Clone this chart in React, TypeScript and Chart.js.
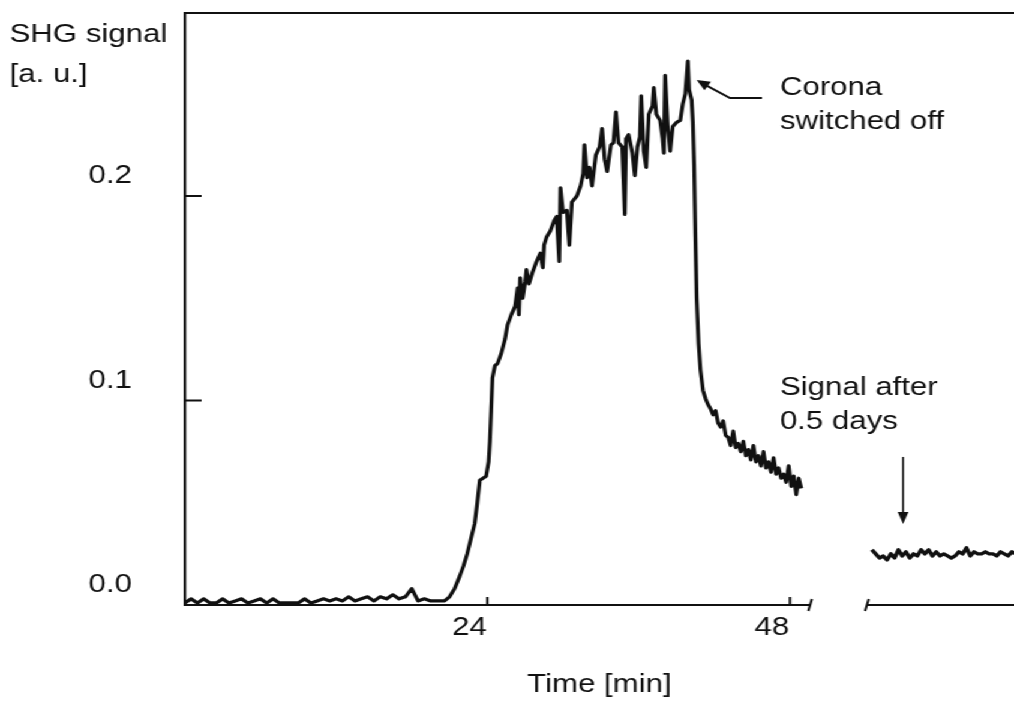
import { useEffect, useRef } from "react";
import { Chart, registerables } from "chart.js";

Chart.register(...registerables);

// ---- data (time in minutes, SHG signal in arbitrary units) ----
const runTimes = [
  0, 0.5, 1, 1.5, 2, 2.5, 3, 3.5, 4, 4.5, 5, 5.5, 6, 6.5, 7, 7.5, 8, 8.5, 9, 9.5,
  10, 10.5, 11, 11.5, 12, 12.5, 13, 13.5, 14, 14.5, 15, 15.5, 16, 16.5, 17, 17.5,
  18, 18.5, 19, 19.5, 20, 20.6,
  21.0, 21.4, 21.8, 22.1, 22.4, 22.6, 23.0, 23.2, 23.4, 23.9, 24.1, 24.2, 24.3,
  24.4, 24.6, 24.8, 25.1, 25.4, 25.6, 25.9, 26.2, 26.4, 26.5, 26.6, 26.8, 27.0,
  27.1, 27.3, 27.6, 27.9, 28.2, 28.4, 28.5, 28.7, 29.0, 29.3, 29.5, 29.7, 29.8,
  30.0, 30.3, 30.5, 30.7, 31.1, 31.4, 31.6, 31.7, 31.9, 32.1, 32.3, 32.6, 32.9,
  33.1, 33.3, 33.5, 33.8, 34.0, 34.2, 34.4, 34.7, 34.9, 35.0, 35.2, 35.5, 35.7,
  35.9, 36.1, 36.2, 36.4, 36.6, 36.8, 37.1, 37.2, 37.4, 37.7, 37.9, 38.0, 38.1,
  38.3, 38.5, 38.7, 39.0, 39.3, 39.5, 39.7, 39.9, 40.0, 40.2, 40.3, 40.4, 40.5,
  40.6, 40.75, 40.9, 41.1, 41.3, 41.5, 41.7, 41.9, 42.1, 42.3, 42.5, 42.7, 42.9,
  43.1, 43.3, 43.5, 43.7, 43.9, 44.1, 44.3, 44.5, 44.7, 44.9, 45.1, 45.3, 45.5,
  45.7, 45.9, 46.1, 46.3, 46.5, 46.7, 46.9, 47.1, 47.3, 47.5, 47.7, 47.9, 48.1,
  48.3, 48.5, 48.7, 48.9,
];
const runSignal = [
  0.001, 0.003, 0.001, 0.003, 0.001, 0.001, 0.003, 0.001, 0.002, 0.003, 0.001,
  0.002, 0.003, 0.001, 0.003, 0.001, 0.001, 0.001, 0.001, 0.003, 0.001, 0.002,
  0.003, 0.002, 0.003, 0.002, 0.004, 0.002, 0.003, 0.004, 0.002, 0.004, 0.003,
  0.005, 0.003, 0.004, 0.008, 0.002, 0.003, 0.002, 0.002, 0.002,
  0.004, 0.008, 0.014, 0.019, 0.025, 0.030, 0.040, 0.050, 0.061, 0.063, 0.070,
  0.080, 0.095, 0.111, 0.117, 0.118, 0.123, 0.130, 0.137, 0.142, 0.146, 0.155,
  0.142, 0.160, 0.150, 0.158, 0.164, 0.157, 0.163, 0.168, 0.172, 0.165, 0.176,
  0.180, 0.183, 0.188, 0.190, 0.168, 0.204, 0.192, 0.193, 0.176, 0.197, 0.200,
  0.205, 0.211, 0.225, 0.209, 0.214, 0.205, 0.220, 0.224, 0.233, 0.218, 0.212,
  0.225, 0.226, 0.241, 0.226, 0.224, 0.191, 0.228, 0.230, 0.221, 0.210, 0.224,
  0.229, 0.249, 0.222, 0.214, 0.240, 0.244, 0.253, 0.240, 0.237, 0.228, 0.221,
  0.259, 0.234, 0.222, 0.234, 0.236, 0.237, 0.245, 0.250, 0.266, 0.252, 0.247,
  0.236, 0.215, 0.180, 0.150, 0.128, 0.115, 0.105, 0.101, 0.098, 0.096, 0.093,
  0.095, 0.089, 0.087, 0.090, 0.083, 0.082, 0.078, 0.085, 0.077, 0.079, 0.075,
  0.080, 0.073, 0.076, 0.071, 0.078, 0.070, 0.073, 0.068, 0.075, 0.067, 0.070,
  0.065, 0.072, 0.064, 0.067, 0.062, 0.064, 0.060, 0.068, 0.058, 0.063, 0.054,
  0.062, 0.057,
];
const laterTimes = [
  54.5, 54.8, 55.1, 55.4, 55.7, 56.0, 56.3, 56.6, 56.9, 57.2, 57.5, 57.8, 58.1,
  58.4, 58.7, 59.0, 59.3, 59.6, 59.9, 60.2, 60.5, 60.8, 61.1, 61.4, 61.7, 62.0,
  62.3, 62.6, 62.9, 63.2, 63.5, 63.8, 64.1, 64.4, 64.7, 65.0, 65.3, 65.6, 65.8,
];
const laterSignal = [
  0.027, 0.025, 0.023, 0.024, 0.022, 0.025, 0.023, 0.027, 0.024, 0.026, 0.023,
  0.025, 0.024, 0.027, 0.025, 0.027, 0.024, 0.026, 0.024, 0.025, 0.024, 0.023,
  0.024, 0.026, 0.025, 0.028, 0.024, 0.026, 0.025, 0.025, 0.026, 0.025, 0.025,
  0.024, 0.026, 0.025, 0.024, 0.026, 0.025,
];
const xTickValues = [24, 48];
const yTickValues = [0, 0.1, 0.2];
const xRange = [0, 65.77];
const yRange = [0, 0.2895];
const axisBreak = [49.6, 54.1];
const xAxisTitle = "Time [min]";
const yAxisTitle = ["SHG signal", "[a. u.]"];
const coronaNote = ["Corona", "switched off"];
const laterNote = ["Signal after", "0.5 days"];

// ---- layout / style ----
const STRETCH = 1.2; // reference is horizontally stretched
const W = 845;
const H = 703;
const INK = "#111";
const FAMILY = "'Liberation Sans', Arial, Helvetica, sans-serif";
const FONT_SIZE = 26;

// annotation anchors in data coordinates
const NOTES = {
  coronaText: { x: 47.2, y: 0.2528, dy: 0.0166 },
  coronaArrow: [
    { x: 45.78, y: 0.2479 },
    { x: 43.24, y: 0.2479 },
    { x: 40.6, y: 0.2567 },
  ],
  laterText: { x: 47.2, y: 0.1061, dy: 0.0166 },
  laterArrow: [
    { x: 56.97, y: 0.0724 },
    { x: 56.97, y: 0.0396 },
  ],
};

function arrowHead(ctx: CanvasRenderingContext2D, fx: number, fy: number, tx: number, ty: number, len: number, half: number) {
  const a = Math.atan2(ty - fy, tx - fx);
  const bx = tx - len * Math.cos(a);
  const by = ty - len * Math.sin(a);
  ctx.beginPath();
  ctx.moveTo(tx, ty);
  ctx.lineTo(bx + half * Math.sin(a), by - half * Math.cos(a));
  ctx.lineTo(bx - half * Math.sin(a), by + half * Math.cos(a));
  ctx.closePath();
  ctx.fill();
}

const overlay = {
  id: "overlay",
  afterDraw(chart: any) {
    const ctx: CanvasRenderingContext2D = chart.ctx;
    const { left, right, top, bottom } = chart.chartArea;
    const xs = chart.scales.x;
    const ys = chart.scales.y;
    const px = (v: number) => xs.getPixelForValue(v);
    const py = (v: number) => ys.getPixelForValue(v);
    ctx.save();
    ctx.strokeStyle = INK;
    ctx.fillStyle = INK;
    ctx.lineCap = "butt";

    // top frame line
    ctx.lineWidth = 2.2;
    ctx.beginPath();
    ctx.moveTo(left - 1, top);
    ctx.lineTo(right, top);
    ctx.stroke();

    // bottom axis with break
    const b1 = px(axisBreak[0]);
    const b2 = px(axisBreak[1]);
    ctx.beginPath();
    ctx.moveTo(left - 1, bottom);
    ctx.lineTo(b1, bottom);
    ctx.moveTo(b2, bottom);
    ctx.lineTo(right, bottom);
    ctx.stroke();
    ctx.lineWidth = 2;
    for (const bx of [b1, b2]) {
      ctx.beginPath();
      ctx.moveTo(bx - 1.5, bottom + 6);
      ctx.lineTo(bx + 1.5, bottom - 6);
      ctx.stroke();
    }

    // inward tick marks
    ctx.lineWidth = 2;
    ctx.beginPath();
    yTickValues.forEach((v) => {
      if (v === yRange[0]) return;
      const y = py(v);
      ctx.moveTo(left, y);
      ctx.lineTo(left + 14, y);
    });
    xTickValues.forEach((v) => {
      const x = px(v);
      ctx.moveTo(x, bottom);
      ctx.lineTo(x, bottom - 8);
    });
    ctx.stroke();

    // texts
    ctx.font = `${FONT_SIZE}px ${FAMILY}`;
    ctx.textAlign = "left";
    ctx.textBaseline = "middle";
    ctx.fillText(yAxisTitle[0], 8, 35);
    ctx.fillText(yAxisTitle[1], 8, 75);

    const ct = NOTES.coronaText;
    ctx.fillText(coronaNote[0], px(ct.x), py(ct.y));
    ctx.fillText(coronaNote[1], px(ct.x), py(ct.y - ct.dy));
    const lt = NOTES.laterText;
    ctx.fillText(laterNote[0], px(lt.x), py(lt.y));
    ctx.fillText(laterNote[1], px(lt.x), py(lt.y - lt.dy));

    // corona arrow
    const ca = NOTES.coronaArrow.map((p) => [px(p.x), py(p.y)]);
    ctx.lineWidth = 2;
    ctx.beginPath();
    ctx.moveTo(ca[0][0], ca[0][1]);
    ctx.lineTo(ca[1][0], ca[1][1]);
    ctx.lineTo(ca[2][0] + 6, ca[2][1] + 4);
    ctx.stroke();
    arrowHead(ctx, ca[1][0], ca[1][1], ca[2][0], ca[2][1], 11, 5);

    // later arrow
    const la = NOTES.laterArrow.map((p) => [px(p.x), py(p.y)]);
    ctx.lineWidth = 1.5;
    ctx.beginPath();
    ctx.moveTo(la[0][0], la[0][1]);
    ctx.lineTo(la[1][0], la[1][1] - 8);
    ctx.stroke();
    arrowHead(ctx, la[0][0], la[0][1], la[1][0], la[1][1], 12, 4.5);

    ctx.restore();
  },
};

export default function App() {
  const canvasRef = useRef<HTMLCanvasElement | null>(null);

  useEffect(() => {
    const canvas = canvasRef.current;
    if (!canvas) return;
    const font = { family: FAMILY, size: FONT_SIZE };
    const chart = new Chart(canvas, {
      type: "line",
      data: {
        datasets: [
          {
            label: "corona on / off",
            data: runTimes.map((t, i) => ({ x: t, y: runSignal[i] })),
            borderColor: INK,
            borderWidth: 3.2,
            pointRadius: 0,
            tension: 0,
            fill: false,
            borderJoinStyle: "round",
          },
          {
            label: "after 0.5 days",
            data: laterTimes.map((t, i) => ({ x: t, y: laterSignal[i] })),
            borderColor: INK,
            borderWidth: 3.4,
            pointRadius: 0,
            tension: 0,
            fill: false,
            borderJoinStyle: "round",
          },
        ],
      },
      options: {
        responsive: false,
        animation: false,
        devicePixelRatio: 1,
        layout: { padding: { top: 13, left: 0, right: 0, bottom: 0 } },
        plugins: {
          legend: { display: false },
          tooltip: { enabled: false },
        },
        scales: {
          x: {
            type: "linear",
            min: xRange[0],
            max: xRange[1],
            afterBuildTicks: (s: any) => {
              s.ticks = xTickValues.map((v) => ({ value: v }));
            },
            afterFit: (s: any) => {
              s.height = H - 605;
              s.paddingLeft = 0;
              s.paddingRight = 0;
            },
            grid: { display: false, drawTicks: false },
            border: { display: false },
            ticks: {
              color: INK,
              font,
              padding: 7,
              labelOffset: -15,
              maxRotation: 0,
              autoSkip: false,
              callback: (v: any) => String(v),
            },
            title: {
              display: true,
              text: xAxisTitle,
              color: INK,
              font,
              padding: { top: 0, bottom: 3 },
            },
          },
          y: {
            type: "linear",
            min: yRange[0],
            max: yRange[1],
            afterBuildTicks: (s: any) => {
              s.ticks = yTickValues.map((v) => ({ value: v }));
            },
            afterFit: (s: any) => {
              s.width = 154;
              s.paddingTop = 0;
              s.paddingBottom = 0;
            },
            grid: { display: false, drawTicks: false },
            border: { display: true, color: INK, width: 2.2 },
            ticks: {
              color: INK,
              font,
              padding: 44,
              labelOffset: -20,
              callback: (v: any) => Number(v).toFixed(1),
            },
          },
        },
      },
      plugins: [overlay],
    });
    return () => chart.destroy();
  }, []);

  return (
    <div
      style={{
        position: "fixed",
        left: 0,
        top: 0,
        width: W,
        height: H,
        background: "#fff",
        transform: `scale(${STRETCH}, 1)`,
        transformOrigin: "0 0",
      }}
    >
      <canvas ref={canvasRef} width={W} height={H} style={{ width: W, height: H, display: "block" }} />
    </div>
  );
}
